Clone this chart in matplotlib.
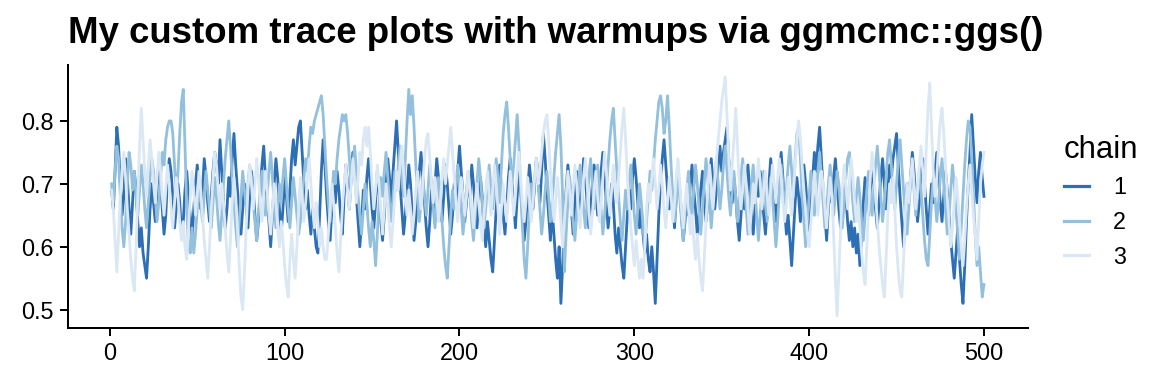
import numpy as np
import matplotlib
matplotlib.use("Agg")
import matplotlib.pyplot as plt

plt.rcParams['font.family'] = ['Liberation Sans', 'DejaVu Sans']

# trace values, iterations 1..500, one row = 25 iterations
chain1 = [
    0.69, 0.66, 0.72, 0.79, 0.76, 0.70, 0.65, 0.68, 0.74, 0.71, 0.66, 0.62, 0.67, 0.72, 0.69, 0.64, 0.60, 0.63, 0.59, 0.57, 0.55, 0.60, 0.66, 0.70, 0.67,
    0.64, 0.69, 0.73, 0.70, 0.66, 0.62, 0.65, 0.71, 0.74, 0.72, 0.68, 0.63, 0.66, 0.70, 0.67, 0.62, 0.64, 0.69, 0.72, 0.68, 0.65, 0.61, 0.66, 0.70, 0.73,
    0.70, 0.66, 0.69, 0.74, 0.71, 0.67, 0.64, 0.68, 0.72, 0.75, 0.73, 0.70, 0.77, 0.72, 0.67, 0.63, 0.66, 0.71, 0.68, 0.74, 0.78, 0.73, 0.69, 0.65, 0.62,
    0.66, 0.70, 0.67, 0.63, 0.68, 0.72, 0.69, 0.65, 0.61, 0.64, 0.69, 0.73, 0.76, 0.71, 0.67, 0.64, 0.60, 0.65, 0.70, 0.74, 0.71, 0.66, 0.62, 0.66, 0.71,
    0.68, 0.64, 0.69, 0.74, 0.77, 0.73, 0.76, 0.79, 0.80, 0.75, 0.70, 0.66, 0.69, 0.65, 0.62, 0.66, 0.63, 0.60, 0.59, 0.65, 0.72, 0.77, 0.73, 0.68, 0.64,
    0.61, 0.66, 0.70, 0.67, 0.72, 0.69, 0.65, 0.62, 0.68, 0.73, 0.70, 0.66, 0.71, 0.75, 0.72, 0.68, 0.64, 0.60, 0.64, 0.69, 0.66, 0.71, 0.74, 0.70, 0.66,
    0.63, 0.67, 0.72, 0.69, 0.64, 0.61, 0.65, 0.70, 0.74, 0.71, 0.67, 0.72, 0.76, 0.80, 0.75, 0.70, 0.66, 0.62, 0.65, 0.69, 0.73, 0.70, 0.65, 0.61, 0.64,
    0.68, 0.72, 0.75, 0.71, 0.67, 0.63, 0.60, 0.64, 0.69, 0.66, 0.70, 0.74, 0.71, 0.67, 0.64, 0.68, 0.73, 0.70, 0.66, 0.62, 0.65, 0.70, 0.67, 0.72, 0.76,
    0.72, 0.68, 0.64, 0.67, 0.71, 0.68, 0.73, 0.70, 0.66, 0.63, 0.67, 0.71, 0.68, 0.63, 0.60, 0.64, 0.61, 0.58, 0.56, 0.61, 0.66, 0.70, 0.73, 0.69, 0.65,
    0.62, 0.66, 0.71, 0.74, 0.70, 0.67, 0.63, 0.68, 0.72, 0.69, 0.65, 0.61, 0.64, 0.69, 0.73, 0.70, 0.66, 0.70, 0.74, 0.71, 0.67, 0.72, 0.78, 0.74, 0.69,
    0.65, 0.61, 0.66, 0.62, 0.58, 0.55, 0.60, 0.51, 0.57, 0.64, 0.69, 0.73, 0.70, 0.66, 0.62, 0.67, 0.72, 0.68, 0.64, 0.69, 0.74, 0.71, 0.67, 0.63, 0.66,
    0.70, 0.73, 0.69, 0.65, 0.68, 0.72, 0.75, 0.71, 0.67, 0.63, 0.66, 0.70, 0.67, 0.62, 0.59, 0.63, 0.60, 0.57, 0.55, 0.60, 0.65, 0.69, 0.66, 0.71, 0.74,
    0.71, 0.67, 0.63, 0.66, 0.62, 0.59, 0.62, 0.58, 0.56, 0.60, 0.56, 0.51, 0.58, 0.65, 0.70, 0.74, 0.77, 0.73, 0.69, 0.66, 0.70, 0.67, 0.63, 0.68, 0.72,
    0.69, 0.65, 0.61, 0.64, 0.68, 0.65, 0.70, 0.73, 0.69, 0.66, 0.62, 0.65, 0.69, 0.72, 0.68, 0.64, 0.67, 0.71, 0.74, 0.70, 0.66, 0.69, 0.73, 0.76, 0.72,
    0.75, 0.77, 0.79, 0.74, 0.70, 0.67, 0.71, 0.68, 0.64, 0.61, 0.65, 0.69, 0.66, 0.70, 0.73, 0.69, 0.65, 0.62, 0.66, 0.71, 0.68, 0.72, 0.69, 0.65, 0.62,
    0.66, 0.70, 0.74, 0.71, 0.67, 0.64, 0.68, 0.72, 0.75, 0.71, 0.66, 0.62, 0.65, 0.61, 0.57, 0.62, 0.67, 0.71, 0.68, 0.64, 0.69, 0.73, 0.70, 0.66, 0.62,
    0.67, 0.71, 0.75, 0.72, 0.76, 0.79, 0.74, 0.69, 0.65, 0.61, 0.66, 0.70, 0.67, 0.71, 0.74, 0.70, 0.66, 0.63, 0.67, 0.71, 0.68, 0.64, 0.61, 0.64, 0.60,
    0.63, 0.59, 0.62, 0.57, 0.62, 0.67, 0.71, 0.68, 0.65, 0.69, 0.73, 0.70, 0.66, 0.63, 0.67, 0.71, 0.74, 0.70, 0.66, 0.69, 0.73, 0.71, 0.74, 0.76, 0.78,
    0.73, 0.68, 0.64, 0.60, 0.65, 0.70, 0.67, 0.71, 0.75, 0.72, 0.68, 0.64, 0.67, 0.71, 0.74, 0.70, 0.66, 0.62, 0.66, 0.70, 0.67, 0.72, 0.75, 0.71, 0.67,
    0.64, 0.68, 0.72, 0.69, 0.65, 0.61, 0.58, 0.55, 0.59, 0.63, 0.58, 0.54, 0.51, 0.57, 0.64, 0.70, 0.75, 0.81, 0.76, 0.71, 0.67, 0.72, 0.75, 0.71, 0.68,
]

chain2 = [
    0.70, 0.67, 0.72, 0.76, 0.74, 0.68, 0.63, 0.60, 0.64, 0.70, 0.75, 0.73, 0.69, 0.72, 0.68, 0.65, 0.69, 0.73, 0.70, 0.66, 0.63, 0.67, 0.71, 0.74, 0.72,
    0.68, 0.64, 0.67, 0.71, 0.75, 0.73, 0.77, 0.79, 0.80, 0.80, 0.78, 0.73, 0.68, 0.72, 0.78, 0.83, 0.85, 0.76, 0.66, 0.60, 0.59, 0.63, 0.59, 0.62, 0.66,
    0.70, 0.67, 0.64, 0.68, 0.72, 0.69, 0.66, 0.63, 0.67, 0.71, 0.68, 0.64, 0.61, 0.65, 0.70, 0.74, 0.77, 0.80, 0.76, 0.71, 0.67, 0.63, 0.60, 0.64, 0.68,
    0.72, 0.69, 0.66, 0.70, 0.73, 0.71, 0.67, 0.64, 0.61, 0.65, 0.69, 0.72, 0.68, 0.65, 0.68, 0.72, 0.75, 0.71, 0.67, 0.63, 0.66, 0.70, 0.67, 0.71, 0.74,
    0.70, 0.66, 0.63, 0.67, 0.71, 0.68, 0.65, 0.62, 0.64, 0.68, 0.71, 0.74, 0.72, 0.76, 0.79, 0.78, 0.80, 0.81, 0.82, 0.83, 0.84, 0.81, 0.76, 0.71, 0.67,
    0.64, 0.68, 0.72, 0.70, 0.74, 0.77, 0.79, 0.81, 0.80, 0.81, 0.78, 0.74, 0.70, 0.73, 0.76, 0.72, 0.68, 0.65, 0.62, 0.66, 0.70, 0.67, 0.63, 0.60, 0.64,
    0.61, 0.57, 0.62, 0.67, 0.71, 0.68, 0.72, 0.75, 0.71, 0.67, 0.64, 0.68, 0.72, 0.69, 0.73, 0.76, 0.72, 0.68, 0.74, 0.80, 0.85, 0.81, 0.84, 0.79, 0.73,
    0.68, 0.64, 0.67, 0.71, 0.68, 0.65, 0.69, 0.73, 0.70, 0.66, 0.63, 0.67, 0.71, 0.68, 0.64, 0.60, 0.57, 0.55, 0.60, 0.65, 0.69, 0.66, 0.70, 0.73, 0.69,
    0.66, 0.62, 0.65, 0.69, 0.72, 0.68, 0.64, 0.61, 0.65, 0.70, 0.74, 0.71, 0.67, 0.63, 0.66, 0.70, 0.73, 0.69, 0.66, 0.70, 0.74, 0.71, 0.67, 0.73, 0.78,
    0.81, 0.83, 0.79, 0.74, 0.70, 0.73, 0.77, 0.81, 0.76, 0.69, 0.63, 0.58, 0.55, 0.60, 0.66, 0.70, 0.67, 0.71, 0.74, 0.70, 0.66, 0.62, 0.65, 0.69, 0.72,
    0.68, 0.64, 0.67, 0.71, 0.75, 0.78, 0.81, 0.76, 0.68, 0.56, 0.62, 0.67, 0.71, 0.68, 0.64, 0.61, 0.65, 0.69, 0.73, 0.70, 0.66, 0.63, 0.67, 0.71, 0.74,
    0.70, 0.66, 0.69, 0.73, 0.70, 0.66, 0.62, 0.65, 0.69, 0.73, 0.77, 0.80, 0.82, 0.77, 0.72, 0.68, 0.64, 0.61, 0.65, 0.69, 0.66, 0.70, 0.73, 0.69, 0.65,
    0.62, 0.66, 0.70, 0.67, 0.63, 0.60, 0.64, 0.68, 0.72, 0.69, 0.73, 0.77, 0.80, 0.83, 0.84, 0.82, 0.78, 0.80, 0.84, 0.79, 0.73, 0.68, 0.64, 0.67, 0.71,
    0.68, 0.64, 0.61, 0.65, 0.69, 0.72, 0.68, 0.65, 0.69, 0.73, 0.70, 0.66, 0.62, 0.66, 0.70, 0.74, 0.71, 0.67, 0.63, 0.67, 0.71, 0.74, 0.70, 0.66, 0.69,
    0.73, 0.76, 0.72, 0.68, 0.65, 0.69, 0.72, 0.68, 0.64, 0.67, 0.71, 0.74, 0.70, 0.66, 0.62, 0.66, 0.70, 0.73, 0.69, 0.65, 0.61, 0.65, 0.69, 0.72, 0.68,
    0.64, 0.67, 0.71, 0.68, 0.64, 0.60, 0.64, 0.69, 0.73, 0.70, 0.66, 0.69, 0.73, 0.76, 0.72, 0.68, 0.74, 0.78, 0.79, 0.74, 0.68, 0.64, 0.60, 0.64, 0.68,
    0.72, 0.69, 0.65, 0.68, 0.72, 0.75, 0.71, 0.67, 0.63, 0.66, 0.70, 0.73, 0.69, 0.65, 0.68, 0.72, 0.70, 0.66, 0.63, 0.67, 0.71, 0.74, 0.75, 0.71, 0.67,
    0.64, 0.68, 0.71, 0.68, 0.64, 0.61, 0.65, 0.69, 0.72, 0.68, 0.65, 0.69, 0.73, 0.76, 0.72, 0.68, 0.64, 0.67, 0.71, 0.75, 0.77, 0.73, 0.69, 0.66, 0.70,
    0.74, 0.77, 0.73, 0.69, 0.65, 0.62, 0.66, 0.70, 0.73, 0.69, 0.65, 0.68, 0.72, 0.69, 0.65, 0.61, 0.58, 0.57, 0.62, 0.67, 0.71, 0.68, 0.64, 0.67, 0.71,
    0.74, 0.70, 0.66, 0.62, 0.65, 0.69, 0.73, 0.70, 0.66, 0.62, 0.58, 0.63, 0.68, 0.73, 0.77, 0.80, 0.79, 0.74, 0.68, 0.62, 0.57, 0.60, 0.56, 0.52, 0.54,
]

chain3 = [
    0.69, 0.66, 0.61, 0.56, 0.62, 0.68, 0.72, 0.75, 0.71, 0.66, 0.62, 0.58, 0.55, 0.53, 0.60, 0.68, 0.76, 0.82, 0.77, 0.72, 0.68, 0.73, 0.77, 0.74, 0.70,
    0.67, 0.71, 0.75, 0.72, 0.68, 0.65, 0.69, 0.73, 0.70, 0.66, 0.63, 0.67, 0.71, 0.68, 0.64, 0.61, 0.64, 0.60, 0.58, 0.63, 0.68, 0.72, 0.69, 0.65, 0.68,
    0.72, 0.69, 0.65, 0.61, 0.58, 0.55, 0.60, 0.66, 0.71, 0.75, 0.73, 0.69, 0.66, 0.70, 0.67, 0.63, 0.59, 0.56, 0.61, 0.67, 0.71, 0.68, 0.63, 0.57, 0.52,
    0.50, 0.56, 0.63, 0.69, 0.73, 0.70, 0.66, 0.70, 0.74, 0.71, 0.67, 0.64, 0.68, 0.72, 0.69, 0.65, 0.62, 0.66, 0.70, 0.67, 0.63, 0.60, 0.64, 0.61, 0.57,
    0.54, 0.52, 0.58, 0.62, 0.58, 0.55, 0.60, 0.66, 0.71, 0.68, 0.64, 0.67, 0.71, 0.74, 0.70, 0.66, 0.63, 0.67, 0.64, 0.60, 0.63, 0.60, 0.58, 0.58, 0.62,
    0.66, 0.70, 0.67, 0.63, 0.59, 0.56, 0.61, 0.66, 0.70, 0.73, 0.69, 0.66, 0.70, 0.74, 0.71, 0.67, 0.71, 0.75, 0.73, 0.77, 0.79, 0.76, 0.79, 0.75, 0.70,
    0.66, 0.69, 0.73, 0.70, 0.66, 0.62, 0.66, 0.70, 0.67, 0.63, 0.60, 0.64, 0.68, 0.72, 0.69, 0.73, 0.76, 0.72, 0.68, 0.65, 0.69, 0.66, 0.62, 0.65, 0.69,
    0.72, 0.69, 0.66, 0.70, 0.74, 0.77, 0.78, 0.74, 0.70, 0.67, 0.71, 0.68, 0.64, 0.67, 0.71, 0.74, 0.70, 0.73, 0.76, 0.79, 0.75, 0.71, 0.67, 0.64, 0.68,
    0.71, 0.68, 0.65, 0.68, 0.72, 0.69, 0.66, 0.63, 0.67, 0.70, 0.67, 0.64, 0.61, 0.65, 0.69, 0.72, 0.68, 0.65, 0.69, 0.73, 0.70, 0.66, 0.62, 0.66, 0.70,
    0.67, 0.64, 0.68, 0.72, 0.69, 0.65, 0.68, 0.72, 0.75, 0.71, 0.67, 0.64, 0.67, 0.71, 0.68, 0.64, 0.67, 0.71, 0.74, 0.70, 0.72, 0.75, 0.78, 0.80, 0.81,
    0.77, 0.72, 0.68, 0.64, 0.67, 0.71, 0.68, 0.64, 0.60, 0.64, 0.68, 0.72, 0.69, 0.65, 0.69, 0.73, 0.70, 0.66, 0.63, 0.67, 0.71, 0.74, 0.70, 0.66, 0.62,
    0.65, 0.69, 0.72, 0.68, 0.64, 0.67, 0.71, 0.75, 0.72, 0.68, 0.65, 0.69, 0.73, 0.70, 0.67, 0.71, 0.75, 0.79, 0.82, 0.77, 0.71, 0.67, 0.63, 0.60, 0.57,
    0.61, 0.58, 0.55, 0.58, 0.55, 0.60, 0.66, 0.70, 0.67, 0.71, 0.74, 0.70, 0.66, 0.69, 0.73, 0.70, 0.66, 0.63, 0.67, 0.71, 0.68, 0.64, 0.67, 0.71, 0.74,
    0.70, 0.66, 0.63, 0.67, 0.70, 0.66, 0.62, 0.65, 0.61, 0.58, 0.62, 0.58, 0.55, 0.53, 0.58, 0.64, 0.69, 0.73, 0.70, 0.66, 0.70, 0.74, 0.77, 0.80, 0.83,
    0.85, 0.87, 0.81, 0.74, 0.69, 0.73, 0.77, 0.82, 0.76, 0.70, 0.66, 0.69, 0.73, 0.70, 0.66, 0.62, 0.66, 0.70, 0.67, 0.71, 0.74, 0.70, 0.66, 0.69, 0.72,
    0.68, 0.65, 0.69, 0.73, 0.70, 0.67, 0.71, 0.74, 0.71, 0.67, 0.64, 0.67, 0.71, 0.68, 0.65, 0.69, 0.73, 0.77, 0.80, 0.77, 0.73, 0.69, 0.66, 0.62, 0.60,
    0.64, 0.68, 0.72, 0.69, 0.65, 0.68, 0.72, 0.70, 0.66, 0.63, 0.67, 0.71, 0.68, 0.62, 0.55, 0.49, 0.56, 0.63, 0.69, 0.73, 0.70, 0.66, 0.70, 0.74, 0.71,
    0.67, 0.64, 0.67, 0.63, 0.59, 0.56, 0.54, 0.60, 0.66, 0.71, 0.75, 0.72, 0.68, 0.64, 0.60, 0.57, 0.54, 0.52, 0.58, 0.65, 0.70, 0.67, 0.71, 0.66, 0.60,
    0.56, 0.53, 0.52, 0.58, 0.65, 0.70, 0.67, 0.71, 0.74, 0.70, 0.66, 0.69, 0.73, 0.76, 0.72, 0.68, 0.76, 0.82, 0.86, 0.79, 0.72, 0.68, 0.71, 0.76, 0.80,
    0.82, 0.78, 0.73, 0.68, 0.64, 0.60, 0.63, 0.67, 0.71, 0.68, 0.64, 0.60, 0.57, 0.61, 0.66, 0.70, 0.73, 0.69, 0.65, 0.62, 0.58, 0.64, 0.70, 0.73, 0.75,
]

chains = [chain1, chain2, chain3]
chain_labels = ["1", "2", "3"]
colors = ["#2c6fb4", "#93c0dc", "#dae7f4"]

fig = plt.figure(figsize=(8, 8 / 3), dpi=144)
ax = fig.add_axes([0.059, 0.146, 0.833, 0.685])

for vals, lab, col in zip(chains, chain_labels, colors):
    it = np.arange(1, len(vals) + 1)
    ax.plot(it, vals, color=col, lw=1.4, label=lab)

# ggplot-like 5% expansion
allv = np.concatenate([np.asarray(c) for c in chains])
n = max(len(c) for c in chains)
xr = n - 1
ax.set_xlim(1 - 0.05 * xr, n + 0.05 * xr)
yr = allv.max() - allv.min()
ax.set_ylim(allv.min() - 0.05 * yr, allv.max() + 0.05 * yr)

ax.set_xticks([0, 100, 200, 300, 400, 500])
ax.set_yticks([0.5, 0.6, 0.7, 0.8])
ax.set_yticklabels(["0.5", "0.6", "0.7", "0.8"])

for s in ["top", "right"]:
    ax.spines[s].set_visible(False)
for s in ["left", "bottom"]:
    ax.spines[s].set_linewidth(1.0)
    ax.spines[s].set_color("black")
ax.tick_params(axis="both", length=4, width=1.0, color="black",
               labelsize=11.7, labelcolor="black", pad=3)

fig.text(0.059, 0.912, "My custom trace plots with warmups via ggmcmc::ggs()",
         fontsize=18.3, fontweight="bold", ha="left", va="center")

leg = fig.legend(loc="center left", bbox_to_anchor=(0.905, 0.475), frameon=False,
                 title="chain", fontsize=11.7, title_fontsize=15.5,
                 handlelength=1.1, handletextpad=1.0, labelspacing=0.5,
                 alignment="left")
for h in leg.get_lines():
    h.set_linewidth(1.6)

fig.savefig("out.png", dpi=144, facecolor="white")
